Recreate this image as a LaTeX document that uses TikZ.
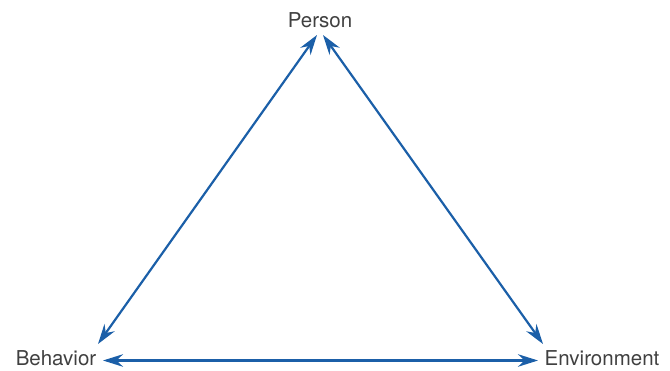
\documentclass[tikz,border=0pt]{standalone}
\usepackage{fontspec}
\setmainfont{TeX Gyre Heros}
\usetikzlibrary{arrows.meta}
\definecolor{arrowblue}{HTML}{1B5FA8}
\definecolor{labelgray}{HTML}{404040}
\begin{document}
\begin{tikzpicture}[x=1pt,y=1pt,
  lbl/.style={text=labelgray,font=\fontsize{20.5}{24}\selectfont,inner sep=0pt,anchor=base},
  link/.style={draw=arrowblue,line width=2.2pt,
    {Stealth[length=20pt,width=12.5pt,inset=6.5pt]}-{Stealth[length=20pt,width=12.5pt,inset=6.5pt]}}]
\useasboundingbox (0,0) rectangle (670,370);
\node[lbl] (person) at (320,342) {Person};
\node[lbl] (behavior) at (56,5) {Behavior};
\node[lbl] (environment) at (602,5) {Environment};
\coordinate (pl) at (317,335);
\coordinate (pr) at (323,335);
\coordinate (bt) at (98,26);
\coordinate (br) at (103,9.5);
\coordinate (et) at (543,26);
\coordinate (el) at (538,9.5);
\draw[link] (pl) -- (bt);
\draw[link] (pr) -- (et);
\draw[link] (br) -- (el);
\end{tikzpicture}
\end{document}
